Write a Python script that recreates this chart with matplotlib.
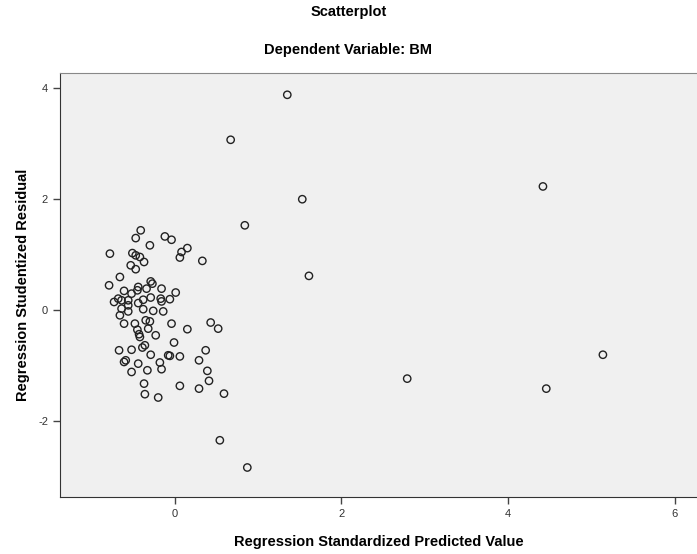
import matplotlib
matplotlib.use('Agg')
import matplotlib.pyplot as plt

plt.rcParams['font.family'] = ['Liberation Sans', 'DejaVu Sans']
plt.rcParams['axes.unicode_minus'] = False

# Regression standardized predicted value (x) and studentized residual (y)
predicted = [1.35, 0.67, 4.42, 1.53, 0.84, 0.33, 1.61, 0.43, 0.52, 0.37,
             0.29, 0.39, 0.41, 0.29, 0.59, 2.79, 5.14, 4.46, 0.54, 0.87,
             -0.41, -0.47, -0.12, -0.04, -0.30, -0.78, -0.51, -0.47, -0.42, -0.37,
             -0.53, -0.47, 0.15, 0.08, 0.06, -0.66, -0.79, -0.29, -0.27, -0.34,
             -0.44, -0.45, -0.16, -0.61, -0.52, -0.68, -0.64, -0.73, -0.56, -0.56,
             -0.44, -0.38, -0.29, -0.17, -0.16, 0.01, -0.06, -0.64, -0.38, -0.26,
             -0.14, -0.56, -0.66, -0.61, -0.48, -0.35, -0.30, -0.45, -0.32, -0.43,
             -0.42, -0.23, -0.04, 0.15, -0.01, -0.36, -0.39, -0.67, -0.52, -0.29,
             -0.59, -0.61, -0.44, -0.18, -0.52, -0.33, -0.16, -0.08, -0.06, 0.06,
             0.06, -0.37, -0.36, -0.20]
residual = [3.88, 3.07, 2.23, 2.00, 1.53, 0.89, 0.62, -0.22, -0.33, -0.72,
            -0.90, -1.09, -1.27, -1.41, -1.50, -1.23, -0.80, -1.41, -2.34, -2.83,
            1.44, 1.30, 1.33, 1.27, 1.17, 1.02, 1.03, 0.99, 0.96, 0.87,
            0.81, 0.74, 1.12, 1.05, 0.95, 0.60, 0.45, 0.52, 0.48, 0.39,
            0.42, 0.36, 0.39, 0.35, 0.30, 0.21, 0.18, 0.15, 0.18, 0.09,
            0.13, 0.19, 0.23, 0.21, 0.16, 0.32, 0.20, 0.03, 0.02, -0.01,
            -0.02, -0.02, -0.09, -0.24, -0.24, -0.18, -0.20, -0.35, -0.33, -0.43,
            -0.48, -0.45, -0.24, -0.34, -0.58, -0.63, -0.67, -0.72, -0.71, -0.80,
            -0.90, -0.93, -0.96, -0.94, -1.11, -1.08, -1.06, -0.81, -0.82, -0.83,
            -1.36, -1.32, -1.51, -1.57]

x_ticks = [0, 2, 4, 6]
y_ticks = [-2, 0, 2, 4]

fig = plt.figure(figsize=(6.97, 5.54), dpi=100)
ax = fig.add_axes([0.086, 0.103, 0.914, 0.765])
ax.set_facecolor('#f0f0f0')

ax.scatter(predicted, residual, s=28, facecolors='none', edgecolors='#222222', linewidths=1.0)

ax.set_xlim(-1.38, 6.27)
ax.set_ylim(-3.36, 4.27)
ax.set_xticks(x_ticks)
ax.set_yticks(y_ticks)
ax.tick_params(length=5, width=1, color='#444444', labelsize=8, labelcolor='#333333')

ax.spines['left'].set_color('#333333')
ax.spines['bottom'].set_color('#333333')
ax.spines['top'].set_color('#888888')
ax.spines['right'].set_visible(False)

ax.set_xlabel('Regression Standardized Predicted Value', fontsize=10.5, fontweight='bold', labelpad=12)
ax.set_ylabel('Regression Studentized Residual', fontsize=10.5, fontweight='bold', labelpad=6)

fig.text(0.5, 0.978, 'Scatterplot', ha='center', va='center', fontsize=10.5, fontweight='bold')
fig.text(0.5, 0.910, 'Dependent Variable: BM', ha='center', va='center', fontsize=10.5, fontweight='bold')

fig.savefig('out.png', dpi=100)
